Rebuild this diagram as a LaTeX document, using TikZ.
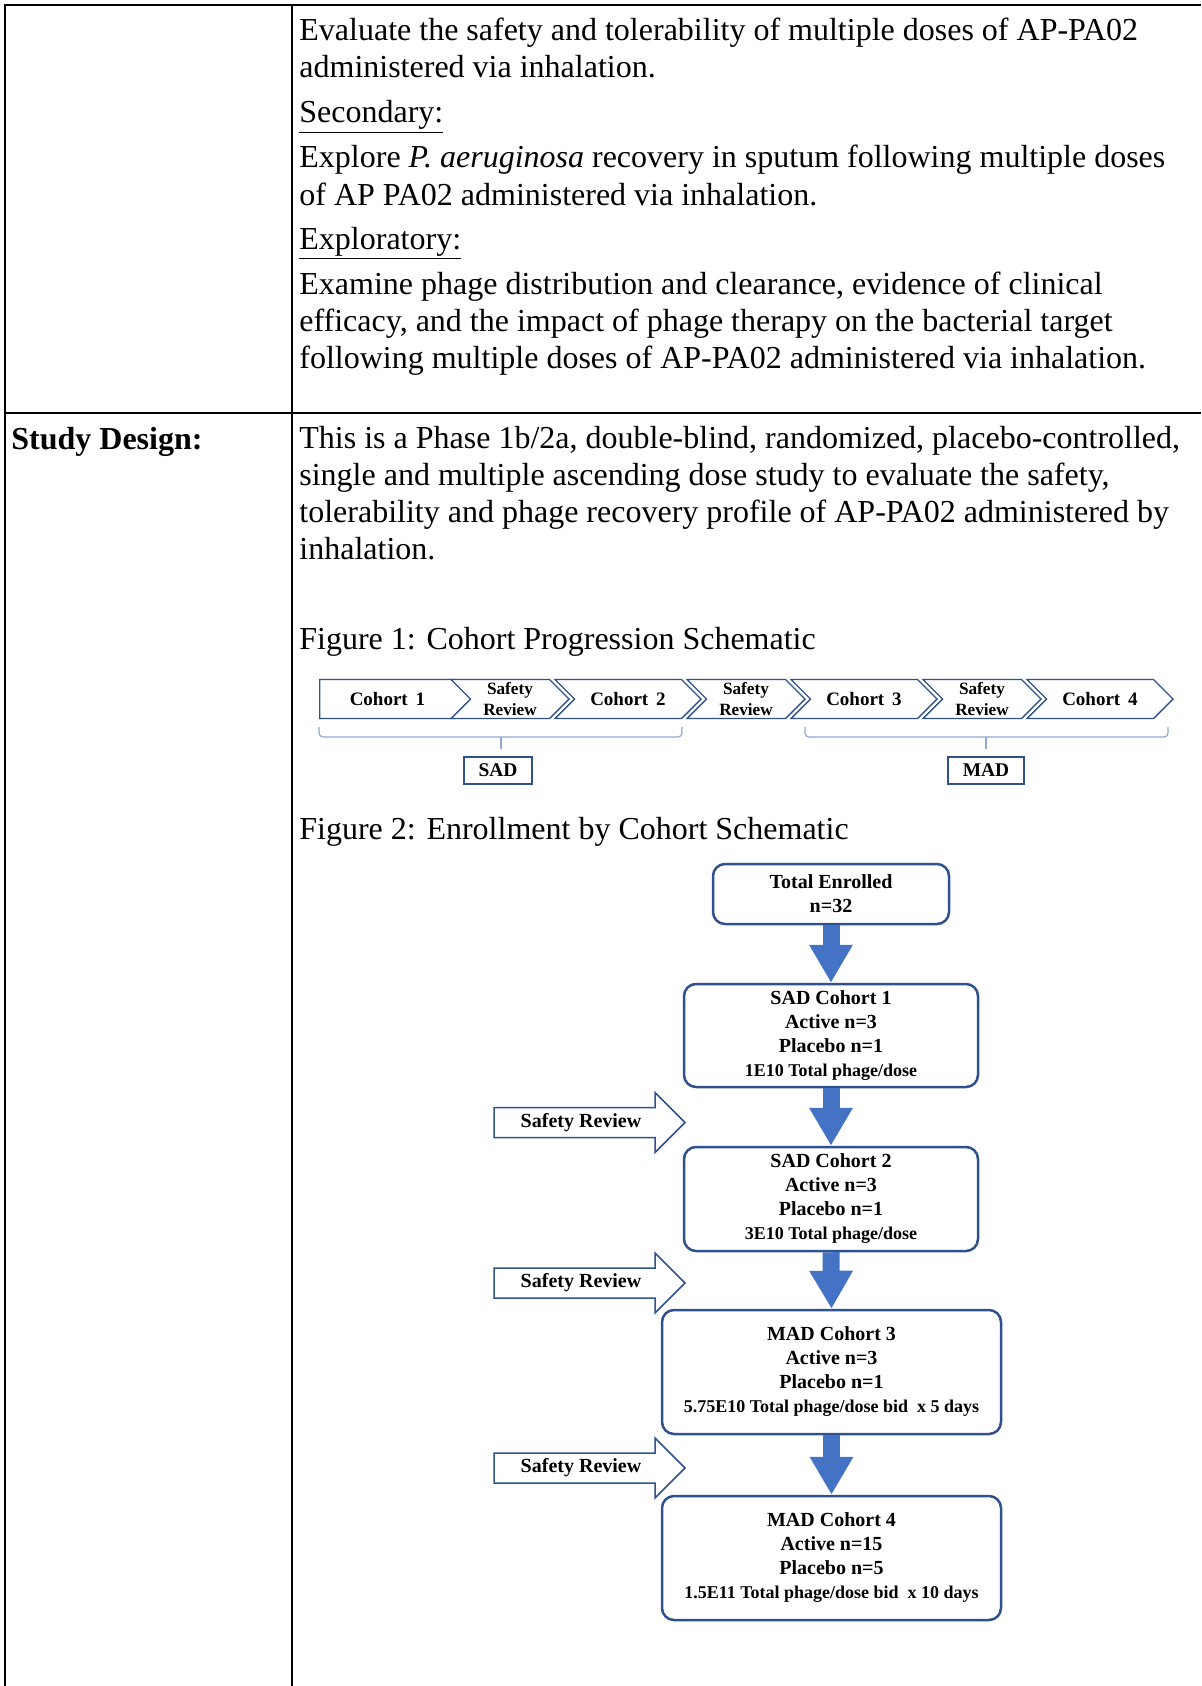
\documentclass[tikz,border=0pt]{standalone}
\usepackage{fontspec}
\setmainfont{Liberation Serif}
\usetikzlibrary{shapes.symbols,arrows.meta}
\definecolor{boxblue}{HTML}{2F528F}
\definecolor{fillblue}{HTML}{4472C4}
\definecolor{braceblue}{HTML}{8FA8D0}
\begin{document}
\begin{tikzpicture}[x=0.5pt,y=-0.5pt,
    txt/.style={anchor=base west, inner sep=0, align=left, font=\fontsize{16}{18.5}\selectfont},
    rule/.style={line width=1pt},
    chev/.style={signal, signal pointer angle=90, draw=boxblue, line width=0.7pt, fill=white,
      minimum height=19.5pt, inner sep=0, font=\bfseries\fontsize{9.5}{10}\selectfont},
    cohort/.style={chev, signal to=east, signal from=west, minimum width=73pt},
    review/.style={chev, signal to=east, signal from=west, minimum width=59pt, align=center,
      font=\bfseries\fontsize{8.6}{10.2}\selectfont},
    brace/.style={draw=braceblue, line width=0.6pt, rounded corners=2pt},
    tag/.style={draw=boxblue, line width=0.8pt, minimum height=13.5pt, inner sep=0,
      font=\bfseries\fontsize{9.7}{11}\selectfont},
    flowbox/.style={draw=boxblue, line width=1.25pt, rounded corners=6pt, fill=white, align=center,
      inner sep=0, font=\bfseries\fontsize{10}{12}\selectfont},
    downarrow/.style={draw=fillblue, line width=8.5pt, -{Triangle[length=19pt,width=20.5pt]}},
    srarrow/.style={draw=boxblue, line width=0.75pt, fill=white},
    srtext/.style={inner sep=0, font=\bfseries\fontsize{10}{12}\selectfont}]
\useasboundingbox (0,0) rectangle (1201,1686);

% table rules
\draw[rule] (4,5) -- (1201,5);
\draw[rule] (5,5) -- (5,1686);
\draw[rule] (292,5) -- (292,1686);
\draw[rule] (5,413) -- (1201,413);

% objectives (multi-line nodes sit on their last baseline)
\node[txt] (obj) at (299,78) {Evaluate the safety and tolerability of multiple doses of AP-PA02\\administered via inhalation.};
\node[txt] (sec) at (299,123) {\underline{Secondary:}};
\node[txt] (secbody) at (299,205) {Explore \textit{P. aeruginosa} recovery in sputum following multiple doses\\of AP PA02 administered via inhalation.};
\node[txt] (expl) at (299,249) {\underline{Exploratory:}};
\node[txt] (explbody) at (299,368) {Examine phage distribution and clearance, evidence of clinical\\efficacy, and the impact of phage therapy on the bacterial target\\following multiple doses of AP-PA02 administered via inhalation.};

% study design
\node[txt] (design) at (11,449) {\textbf{Study Design:}};
\node[txt] (designbody) at (299,559) {This is a Phase 1b/2a, double-blind, randomized, placebo-controlled,\\single and multiple ascending dose study to evaluate the safety,\\tolerability and phage recovery profile of AP-PA02 administered by\\inhalation.};
\node[txt] (fig1) at (299,649) {Figure 1: Cohort Progression Schematic};

% figure 1
\node[cohort, signal from=nowhere, minimum width=77.5pt] (c1) at (387.5,699) {Cohort\, 1};
\node[review] (sr1) at (510,699) {Safety\\Review};
\node[cohort] (c2) at (628,699) {Cohort\, 2};
\node[review] (sr2) at (746,699) {Safety\\Review};
\node[cohort] (c3) at (864,699) {Cohort\, 3};
\node[review] (sr3) at (982,699) {Safety\\Review};
\node[cohort] (c4) at (1100,699) {Cohort\, 4};

\draw[brace] (319,727) -- (319,737) -- (682,737) -- (682,727);
\draw[brace] (501,737) -- (501,749);
\draw[brace] (805,727) -- (805,737) -- (1168,737) -- (1168,727);
\draw[brace] (986,737) -- (986,749);
\node[tag, minimum width=34pt] (sad) at (498,770.5) {SAD};
\node[tag, minimum width=38pt] (mad) at (986,770.5) {MAD};

\node[txt] (fig2) at (299,839) {Figure 2: Enrollment by Cohort Schematic};

% figure 2
\node[flowbox, minimum width=118pt, minimum height=30pt] (total) at (831,894) {Total Enrolled\\n=32};
\node[flowbox, minimum width=147pt, minimum height=51.5pt] (sad1) at (831,1035.5)
  {SAD Cohort 1\\Active n=3\\Placebo n=1\\{\fontsize{9}{12}\selectfont 1E10 Total phage/dose}};
\node[flowbox, minimum width=147pt, minimum height=52pt] (sad2) at (831,1199)
  {SAD Cohort 2\\Active n=3\\Placebo n=1\\{\fontsize{9}{12}\selectfont 3E10 Total phage/dose}};
\node[flowbox, minimum width=169.5pt, minimum height=62pt] (mad3) at (831.5,1372)
  {MAD Cohort 3\\Active n=3\\Placebo n=1\\{\fontsize{9}{12}\selectfont 5.75E10 Total phage/dose bid\enspace x 5 days}};
\node[flowbox, minimum width=169.5pt, minimum height=62pt] (mad4) at (831.5,1558)
  {MAD Cohort 4\\Active n=15\\Placebo n=5\\{\fontsize{9}{12}\selectfont 1.5E11 Total phage/dose bid\enspace x 10 days}};

\draw[downarrow] (total.south) -- (sad1.north);
\draw[downarrow] (sad1.south) -- (sad2.north);
\draw[downarrow] (sad2.south) -- (mad3.north);
\draw[downarrow] (mad3.south) -- (mad4.north);

\foreach \y/\n in {1122.5/a,1283/b,1468/c} {
  \draw[srarrow] (494,\y-15) -- (655,\y-15) -- (655,\y-30) -- (685,\y)
    -- (655,\y+30) -- (655,\y+15) -- (494,\y+15) -- cycle;
  \node[srtext] (sr-\n) at (581,\y) {Safety Review};
}
\end{tikzpicture}
\end{document}
